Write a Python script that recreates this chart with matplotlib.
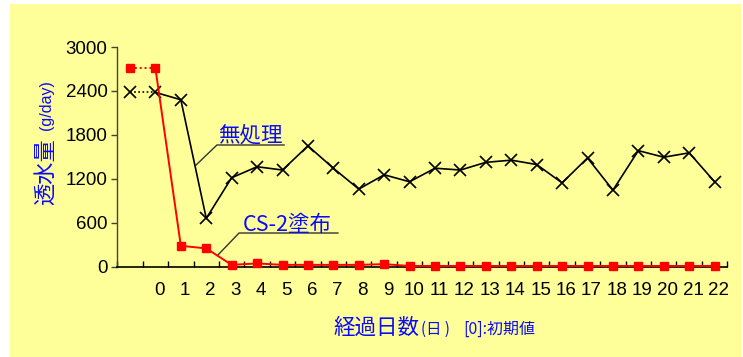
import matplotlib
matplotlib.use("Agg")
import matplotlib.pyplot as plt
from matplotlib.patches import Rectangle
import matplotlib.transforms as mtransforms

# ---- data ----
day_labels = [""] + [str(d) for d in range(0, 23)]
untreated = [2380, 2380, 2280, 660, 1215, 1365, 1320, 1650, 1345, 1060, 1255, 1160,
             1345, 1320, 1425, 1455, 1395, 1145, 1485, 1045, 1585, 1495, 1555, 1160]
cs2 = [2710, 2710, 285, 250, 25, 45, 25, 25, 25, 25, 35, 10,
       10, 10, 10, 10, 10, 10, 10, 10, 10, 10, 10, 10]
yticks = [0, 600, 1200, 1800, 2400, 3000]

BLUE = "#0a0aff"
YELLOW = "#ffff99"
NUMFONT = ["Liberation Sans Narrow", "Liberation Sans", "DejaVu Sans"]
JPFONT = ["Noto Sans CJK JP", "DejaVu Sans"]

fig = plt.figure(figsize=(7.43, 3.57), dpi=100)
fig.patch.set_facecolor("white")
fig.patches.append(Rectangle((10 / 743, 0), (741 - 10) / 743, 1 - 4 / 357,
                             transform=fig.transFigure, facecolor=YELLOW,
                             edgecolor="none", zorder=-10))

ax = fig.add_axes([117.3 / 743, 1 - 266.7 / 357, (727.3 - 117.3) / 743, (266.7 - 47) / 357])
ax.set_facecolor("none")

x = list(range(len(day_labels)))

# dotted first segment, solid afterwards
ax.plot(x[:2], untreated[:2], color="black", lw=1.2, ls=(0, (1, 1.5)), zorder=3)
ax.plot(x[1:], untreated[1:], color="black", lw=1.2, zorder=3)
ax.plot(x, untreated, ls="none", marker="x", ms=8, mew=1.2, color="black", zorder=4)

ax.plot(x[:2], cs2[:2], color="red", lw=1.4, ls=(0, (1, 1.5)), zorder=5)
ax.plot(x[1:], cs2[1:], color="red", lw=1.4, zorder=5)
ax.plot(x, cs2, ls="none", marker="s", ms=6, color="red", zorder=6, clip_on=False)

ax.set_xlim(-0.5, len(x) - 0.5)
ax.set_ylim(0, 3000)

for s in ["top", "right"]:
    ax.spines[s].set_visible(False)
ax.spines["left"].set_color("#444433")
ax.spines["left"].set_linewidth(1.0)
ax.spines["bottom"].set_color("black")
ax.spines["bottom"].set_linewidth(1.2)

ax.set_yticks(yticks)
ax.set_yticklabels([str(v) for v in yticks], fontsize=13.5, family=NUMFONT)
ax.tick_params(axis="y", direction="out", length=4, width=1, color="#444433", pad=3)

ax.set_xticks(x)
ax.set_xticklabels(day_labels, fontsize=13.5, family=NUMFONT)
ax.tick_params(axis="x", which="major", length=0, pad=11)
ax.set_xticks([i + 0.5 for i in range(-1, len(x))], minor=True)
ax.tick_params(axis="x", which="minor", direction="in", length=4.5, width=1, color="black")

offset = mtransforms.ScaledTranslation(4 / 100, 0, fig.dpi_scale_trans)
for lbl in ax.get_xticklabels():
    lbl.set_transform(lbl.get_transform() + offset)

# annotations
lc = "#333333"
ax.plot([2.60, 3.42, 6.06], [1389, 1662, 1662], color=lc, lw=1.0, clip_on=False, zorder=2)
ax.text(3.46, 1712, "無処理", color=BLUE, fontsize=15.5, family=JPFONT,
        ha="left", va="baseline")
ax.plot([3.46, 4.29, 8.18], [160, 460, 460], color=lc, lw=1.0, clip_on=False, zorder=2)
ax.text(4.45, 494, "CS-2塗布", color=BLUE, fontsize=15.5, family=JPFONT,
        ha="left", va="baseline")

# axis titles
fig.text(45.5 / 743, 1 - 172 / 357, "透水量", rotation=90, color=BLUE, fontsize=16,
         family=JPFONT, ha="center", va="center")
fig.text(46.5 / 743, 1 - 105 / 357, "(g/day)", rotation=90, color=BLUE, fontsize=11.5,
         family=["Liberation Sans", "DejaVu Sans"], ha="center", va="center")

fig.text(333 / 743, 1 - 334 / 357, "経過日数", color=BLUE, fontsize=15.5, family=JPFONT,
         ha="left", va="baseline")
fig.text(421 / 743, 1 - 334 / 357, "(日 )", color=BLUE, fontsize=11, family=JPFONT,
         ha="left", va="baseline")
fig.text(463 / 743, 1 - 334 / 357, "[0]:初期値", color=BLUE, fontsize=11.5, family=JPFONT,
         ha="left", va="baseline")

fig.savefig("out.png", dpi=100, facecolor=fig.get_facecolor())
